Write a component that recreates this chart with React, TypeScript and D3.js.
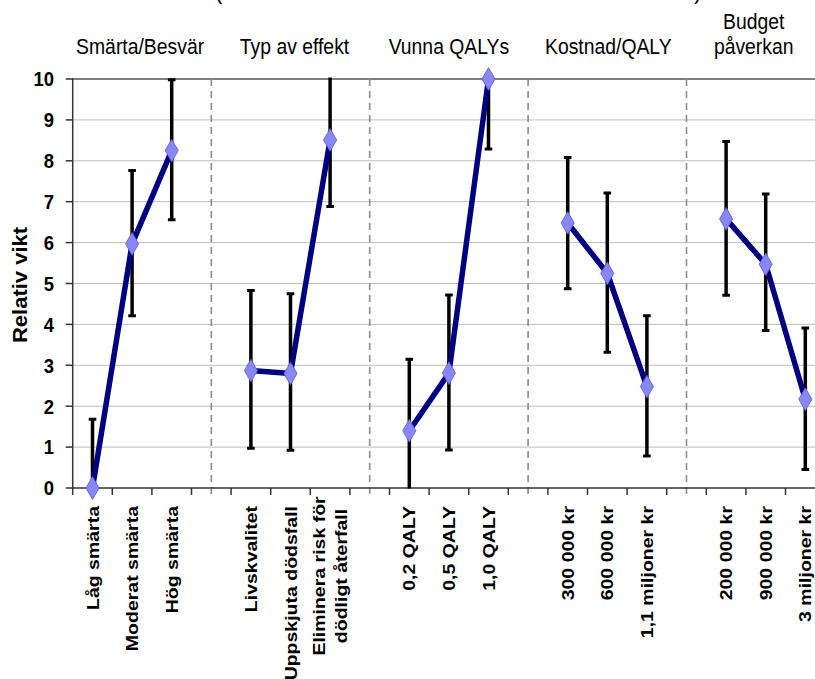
import React from "react";
import * as d3 from "d3";

// Attribute groups and their levels
const groupNames: string[][] = [
  ["Smärta/Besvär"],
  ["Typ av effekt"],
  ["Vunna QALYs"],
  ["Kostnad/QALY"],
  ["Budget", "påverkan"],
];

const levelLabels: string[][][] = [
  [["Låg smärta"], ["Moderat smärta"], ["Hög smärta"]],
  [["Livskvalitet"], ["Uppskjuta dödsfall"], ["Eliminera risk för", "dödligt återfall"]],
  [["0,2 QALY"], ["0,5 QALY"], ["1,0 QALY"]],
  [["300 000 kr"], ["600 000 kr"], ["1,1 miljoner kr"]],
  [["200 000 kr"], ["900 000 kr"], ["3 miljoner kr"]],
];

// Relative weight per level, with lower / upper ends of the interval
const weights: number[][] = [
  [0, 5.97, 8.25],
  [2.87, 2.8, 8.51],
  [1.4, 2.81, 10.0],
  [6.48, 5.25, 2.48],
  [6.58, 5.47, 2.17],
];
const lower: number[][] = [
  [-1.68, 4.21, 6.56],
  [0.97, 0.92, 6.88],
  [-0.35, 0.93, 8.29],
  [4.87, 3.32, 0.78],
  [4.71, 3.85, 0.45],
];
const upper: number[][] = [
  [1.68, 7.76, 9.98],
  [4.83, 4.75, 10.14],
  [3.15, 4.72, 11.71],
  [8.08, 7.21, 4.21],
  [8.47, 7.19, 3.91],
];

const yTicks: number[] = [0, 1, 2, 3, 4, 5, 6, 7, 8, 9, 10];
const yTitle = "Relativ vikt";

// Layout
const W = 815;
const H = 679;
const left = 72.7;
const slotW = 39.6;
const top = 79;
const bottom = 488;
const headerShift = [8, 4, 0, 1, -12];
const sx = 0.88; // horizontal glyph compression

export default function App() {
  // one slot per level, plus one empty slot between groups
  const slots: string[] = [];
  groupNames.forEach((_, g) => {
    if (g > 0) slots.push(`gap${g}`);
    levelLabels[g].forEach((_, i) => slots.push(`s${g}-${i}`));
  });
  const x = d3
    .scaleBand<string>()
    .domain(slots)
    .range([left, left + slots.length * slotW])
    .padding(0);
  const y = d3.scaleLinear().domain([0, 10]).range([bottom, top]);
  const cx = (g: number, i: number) => (x(`s${g}-${i}`) as number) + x.bandwidth() / 2;

  const line = d3.line<number>().y((v) => y(v));

  const boundaries = d3.range(slots.length + 1).map((i) => left + i * x.bandwidth());
  const diamond = d3.symbol(d3.symbolDiamond, 150)();

  return (
    <svg
      width={W}
      height={H}
      style={{ position: "absolute", left: 0, top: 0, background: "#fff" }}
      fontFamily="'Liberation Sans', Arial, sans-serif"
    >
      <defs>
        <clipPath id="plotClip">
          <rect x={left - 10} y={top - 1.5} width={W} height={bottom - top + 2} />
        </clipPath>
      </defs>

      {/* partially visible title line */}
      <text x={215} y={-1} fontSize={22} fill="#000">(</text>
      <text x={694} y={-1} fontSize={22} fill="#000">)</text>

      {/* horizontal gridlines */}
      {yTicks.filter((t) => t > 0).map((t) => (
        <line
          key={`g${t}`}
          x1={left}
          x2={W}
          y1={y(t)}
          y2={y(t)}
          stroke={t === 10 ? "#808080" : "#bdbdbd"}
          strokeWidth={t === 10 ? 2 : 1}
        />
      ))}

      {/* group separators */}
      {groupNames.slice(1).map((_, k) => {
        const gx = (x(`gap${k + 1}`) as number) + x.bandwidth() / 2;
        return (
          <line
            key={`sep${k}`}
            x1={gx}
            x2={gx}
            y1={top}
            y2={bottom + 7}
            stroke="#8c8c8c"
            strokeWidth={1.6}
            strokeDasharray="7,5"
          />
        );
      })}

      {/* y axis */}
      <line x1={left} x2={left} y1={top - 1} y2={bottom} stroke="#333" strokeWidth={1.5} />
      {yTicks.map((t) => (
        <g key={`yt${t}`}>
          <line x1={left - 7} x2={left} y1={y(t)} y2={y(t)} stroke="#333" strokeWidth={1.5} />
          <text
            transform={`translate(54,${y(t)}) scale(0.9,1)`}
            textAnchor="end"
            dy="0.36em"
            fontSize={20.5}
            fontWeight="bold"
            fill="#000"
          >
            {t}
          </text>
        </g>
      ))}
      <text
        transform={`translate(20,285) scale(${sx},1) rotate(-90)`}
        textAnchor="middle"
        dy="0.36em"
        fontSize={22}
        fontWeight="bold"
        fill="#000"
      >
        {yTitle}
      </text>

      {/* x axis */}
      <line x1={left} x2={W} y1={bottom} y2={bottom} stroke="#333" strokeWidth={1.5} />
      {boundaries.map((bx, i) => (
        <line key={`xt${i}`} x1={bx} x2={bx} y1={bottom} y2={bottom + 7} stroke="#333" strokeWidth={1.5} />
      ))}

      {/* level labels */}
      {levelLabels.map((grp, g) =>
        grp.map((lines, i) => {
          const n = lines.length;
          return (
            <text
              key={`xl${g}-${i}`}
              transform={`translate(${cx(g, i)},506) scale(${sx},1) rotate(-90)`}
              textAnchor={n > 1 ? "middle" : "end"}
              fontSize={19.5}
              fontWeight="bold"
              fill="#000"
            >
              {lines.map((l, k) => (
                <tspan
                  key={k}
                  x={n > 1 ? -70 : 0}
                  y={0}
                  dy={`${0.36 + (k - (n - 1) / 2) * 1.3}em`}
                >
                  {l}
                </tspan>
              ))}
            </text>
          );
        })
      )}

      {/* group headings */}
      {groupNames.map((lines, g) => {
        const gxc = cx(g, 1) + headerShift[g];
        return (
          <text
            key={`h${g}`}
            transform={`translate(${gxc},54) scale(${sx},1)`}
            textAnchor="middle"
            fontSize={22}
            fill="#000"
          >
            {lines.map((l, k) => (
              <tspan key={k} x={0} y={(k - (lines.length - 1)) * 25.5}>
                {l}
              </tspan>
            ))}
          </text>
        );
      })}

      {/* intervals and connecting lines */}
      <g clipPath="url(#plotClip)">
        {weights.map((grp, g) =>
          grp.map((_, i) => {
            const px = cx(g, i);
            const y1 = y(lower[g][i]);
            const y2 = y(upper[g][i]);
            return (
              <g key={`e${g}-${i}`} stroke="#000">
                <line x1={px} x2={px} y1={y1} y2={y2} strokeWidth={3.5} />
                <line x1={px - 3.8} x2={px + 3.8} y1={y1} y2={y1} strokeWidth={3} />
                <line x1={px - 3.8} x2={px + 3.8} y1={y2} y2={y2} strokeWidth={3} />
              </g>
            );
          })
        )}
        {weights.map((grp, g) => (
          <path
            key={`l${g}`}
            d={line.x((_, i) => cx(g, i))(grp) as string}
            fill="none"
            stroke="#000080"
            strokeWidth={5.5}
            strokeLinejoin="round"
          />
        ))}
      </g>

      {/* markers */}
      {weights.map((grp, g) =>
        grp.map((v, i) => (
          <path
            key={`m${g}-${i}`}
            d={diamond as string}
            transform={`translate(${cx(g, i)},${y(v)})`}
            fill="#8787f5"
            stroke="#5c5cd6"
            strokeWidth={0.8}
          />
        ))
      )}
    </svg>
  );
}
